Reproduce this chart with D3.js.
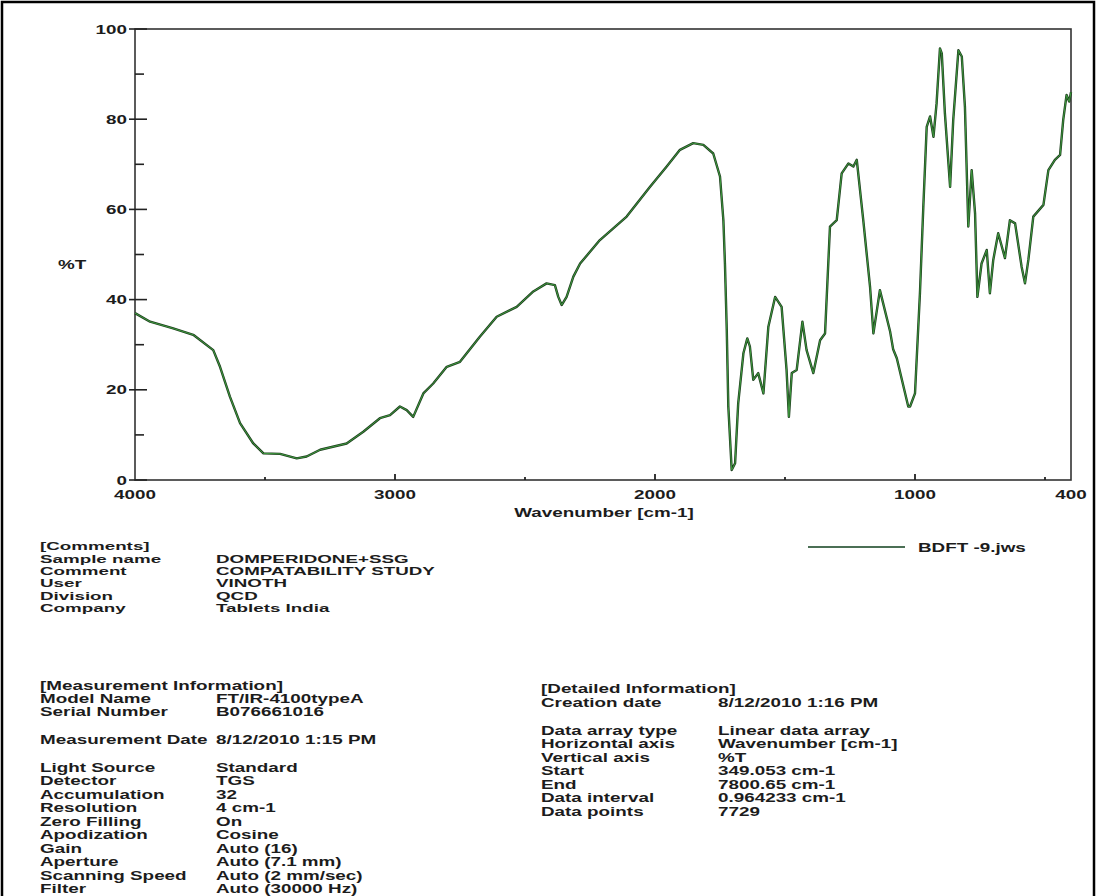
<!DOCTYPE html>
<html><head><meta charset="utf-8">
<script src="https://cdn.jsdelivr.net/npm/d3@7"></script>
<style>
html,body{margin:0;padding:0;background:#fff;overflow:hidden}
svg text{font-family:"Liberation Sans",Arial,Helvetica,sans-serif;font-weight:bold;fill:#1c1c1c}
</style></head>
<body>
<svg id="c" width="1097" height="896"></svg>
<script>
// ---- data ----
const wavenumbers = [4000,3942,3853,3776,3699,3673,3635,3596,3545,3506,3442,3378,3340,3288,3186,3122,3058,3019,2981,2955,2930,2891,2853,2801,2750,2673,2609,2532,2468,2417,2385,2372,2359,2340,2314,2288,2212,2109,2019,1955,1904,1853,1814,1776,1750,1737,1731,1724,1718,1705,1692,1680,1660,1645,1635,1622,1603,1583,1564,1538,1513,1494,1485,1474,1455,1433,1417,1391,1365,1346,1327,1301,1282,1256,1237,1224,1199,1173,1160,1135,1096,1084,1070,1026,1019,1000,981,968,955,942,929,917,904,897,885,865,853,833,820,808,795,782,769,760,744,724,712,699,680,654,635,615,590,577,564,545,506,487,462,442,430,417,407,400];
const transmittance = [37.0,35.1,33.6,32.2,28.8,25.1,18.5,12.6,8.1,5.9,5.8,4.8,5.2,6.7,8.1,10.7,13.7,14.4,16.3,15.5,14.0,19.2,21.4,25.1,26.2,31.8,36.2,38.4,41.8,43.6,43.2,40.6,38.8,40.6,45.1,48.0,53.2,58.4,65.0,69.5,73.2,74.7,74.3,72.4,67.3,57.6,48.0,33.3,16.3,2.2,3.7,17.0,28.1,31.4,29.6,22.2,23.7,19.2,34.0,40.6,38.4,24.4,14.0,23.7,24.4,35.1,28.8,23.7,31.0,32.5,56.2,57.6,68.0,70.2,69.5,71.0,57.6,42.9,32.5,42.1,33.0,29.0,27.0,16.3,16.3,19.2,41.4,60.6,78.3,80.6,76.1,83.5,95.7,94.6,81.3,65.0,79.8,95.3,93.9,82.8,56.2,68.7,59.1,40.6,48.0,51.0,41.4,48.8,54.7,49.2,57.6,56.9,47.3,43.6,48.8,58.4,61.0,68.7,71.0,72.1,79.8,85.4,83.9,86.0];

const yTickValues = [0,20,40,60,80,100];
const yMinorTicks = [10,30,50,70,90];
const xTickLabels = [4000,3000,2000,1000,400];
const xMajorTicks = [3000,2000,1000];
const xMinorTicks = [3500,2500,1500,500];
const xAxisTitle = "Wavenumber [cm-1]";
const yAxisTitle = "%T";
const legendLabel = "BDFT -9.jws";

const commentsHeader = "[Comments]";
const commentsKeys = ["Sample name","Comment","User","Division","Company"];
const commentsVals = ["DOMPERIDONE+SSG","COMPATABILITY STUDY","VINOTH","QCD","Tablets India"];

const measHeader = "[Measurement Information]";
const measKeysA = ["Model Name","Serial Number"];
const measValsA = ["FT/IR-4100typeA","B076661016"];
const measDateKey = "Measurement Date";
const measDateVal = "8/12/2010 1:15 PM";
const measKeysB = ["Light Source","Detector","Accumulation","Resolution","Zero Filling","Apodization","Gain","Aperture","Scanning Speed","Filter"];
const measValsB = ["Standard","TGS","32","4 cm-1","On","Cosine","Auto (16)","Auto (7.1 mm)","Auto (2 mm/sec)","Auto (30000 Hz)"];

const detHeader = "[Detailed Information]";
const detCreateKey = "Creation date";
const detCreateVal = "8/12/2010 1:16 PM";
const detKeys = ["Data array type","Horizontal axis","Vertical axis","Start","End","Data interval","Data points"];
const detVals = ["Linear data array","Wavenumber [cm-1]","%T","349.053 cm-1","7800.65 cm-1","0.964233 cm-1","7729"];

// ---- drawing ----
const svg = d3.select("#c");
function txt(x, y, s, anchor, fs, sx) {
  fs = fs || 13; sx = sx || 1.45;
  const g = svg.append("g").attr("transform", `translate(${x},${y}) scale(${sx},1)`);
  g.append("text").attr("x",0).attr("y",0).attr("dy","0.36em")
    .attr("text-anchor", anchor || "start").style("font-size", fs + "px").text(s);
  return g;
}

// page border
svg.append("rect").attr("x",2).attr("y",2).attr("width",1092).attr("height",910)
  .attr("fill","none").attr("stroke","#000").attr("stroke-width",2.5);

const L = 135, R = 1071, T = 29, B = 480;
const x = d3.scaleLinear().domain([4000,400]).range([L,R]);
const y = d3.scaleLinear().domain([0,100]).range([B,T]);

// plot frame
svg.append("rect").attr("x",L).attr("y",T).attr("width",R-L).attr("height",B-T)
  .attr("fill","none").attr("stroke","#333").attr("stroke-width",1.6);

// y ticks
yTickValues.forEach(v => {
  svg.append("line").attr("x1",L-6).attr("x2",L+12).attr("y1",y(v)).attr("y2",y(v))
    .attr("stroke","#222").attr("stroke-width",1.6);
  txt(L-8, y(v), String(v), "end");
});
yMinorTicks.forEach(v => {
  svg.append("line").attr("x1",L).attr("x2",L+9).attr("y1",y(v)).attr("y2",y(v))
    .attr("stroke","#222").attr("stroke-width",1.6);
});
txt(58, 264, yAxisTitle, "start");

// x ticks
xMajorTicks.forEach(v => {
  svg.append("line").attr("x1",x(v)).attr("x2",x(v)).attr("y1",B).attr("y2",B-6)
    .attr("stroke","#222").attr("stroke-width",1.8);
});
xMinorTicks.forEach(v => {
  svg.append("line").attr("x1",x(v)).attr("x2",x(v)).attr("y1",B).attr("y2",B-3)
    .attr("stroke","#222").attr("stroke-width",1.8);
});
xTickLabels.forEach(v => txt(x(v), 494, String(v), "middle"));
txt(604, 512, xAxisTitle, "middle");

// spectrum
const pts = wavenumbers.map((w,i) => [w, transmittance[i]]);
const line = d3.line().x(d => x(d[0])).y(d => y(d[1]));
svg.append("path").datum(pts).attr("d", line).attr("fill","none")
  .attr("stroke","#1f3f1f").attr("stroke-width",2.4).attr("stroke-linejoin","round");
svg.append("path").datum(pts).attr("d", line).attr("fill","none")
  .attr("stroke","#3e9a3e").attr("stroke-width",1).attr("stroke-linejoin","round");

// legend
svg.append("line").attr("x1",808).attr("x2",905).attr("y1",547).attr("y2",547)
  .attr("stroke","#4b6f55").attr("stroke-width",1.8);
txt(918, 547, legendLabel, "start");

// comments block (slightly tighter lines in the reference)
const C1 = 40, C2 = 216;
const cFS = 11.6, cSX = 1.62, cStep = 12.4;
txt(C1, 546, commentsHeader, "start", cFS, cSX);
commentsKeys.forEach((k,i) => {
  txt(C1, 558.5 + i*cStep, k, "start", cFS, cSX);
  txt(C2, 558.5 + i*cStep, commentsVals[i], "start", cFS, cSX);
});

// measurement block
const mStep = 13.5;
txt(C1, 685, measHeader);
measKeysA.forEach((k,i) => { txt(C1, 698 + i*13, k); txt(C2, 698 + i*13, measValsA[i]); });
txt(C1, 739, measDateKey); txt(C2, 739, measDateVal);
measKeysB.forEach((k,i) => { txt(C1, 767 + i*mStep, k); txt(C2, 767 + i*mStep, measValsB[i]); });

// detailed block
const D1 = 541, D2 = 718;
txt(D1, 688, detHeader);
txt(D1, 702, detCreateKey); txt(D2, 702, detCreateVal);
detKeys.forEach((k,i) => { txt(D1, 730 + i*mStep, k); txt(D2, 730 + i*mStep, detVals[i]); });
</script>
</body></html>
